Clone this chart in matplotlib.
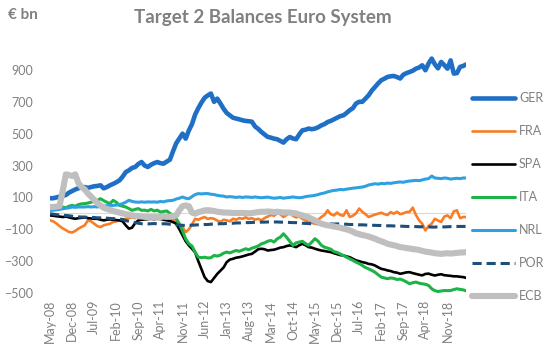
import numpy as np
import pandas as pd
import matplotlib
matplotlib.use('Agg')
import matplotlib.pyplot as plt

plt.rcParams['font.family'] = ['Lato', 'DejaVu Sans']

# monthly balances, May-08 .. May-19 (EUR bn)
months = pd.date_range('2008-05-01', periods=133, freq='MS')
month_labels = months.strftime('%b-%y')

ger = [95, 95, 100, 105, 110, 115, 130, 140, 150, 158, 163, 165,
       160, 165, 170, 172, 176, 157, 165, 176, 185, 195, 207, 230,
       259, 270, 285, 291, 310, 322, 300, 291, 305, 315, 322, 315,
       312, 325, 337, 390, 440, 470, 500, 469, 520, 560, 620, 660,
       695, 725, 740, 752, 700, 720, 690, 657, 630, 615, 600, 595,
       590, 584, 580, 578, 575, 545, 530, 511, 495, 480, 475, 469,
       465, 455, 444, 465, 479, 470, 465, 495, 521, 525, 532, 528,
       532, 540, 552, 560, 573, 580, 590, 600, 610, 615, 630, 647,
       660, 689, 700, 700, 720, 741, 770, 793, 815, 835, 845, 856,
       860, 862, 855, 846, 870, 880, 887, 895, 908, 915, 929, 898,
       940, 971, 935, 910, 950, 930, 908, 960, 877, 880, 919, 925,
       935]
fra = [-44, -50, -63, -80, -94, -105, -117, -120, -110, -96, -85, -75,
       -44, -50, -65, -80, -86, -75, -70, -65, -54, -50, -44, -40,
       -34, -30, -25, -30, -20, -25, -30, -20, -25, -15, -20, -25,
       -10, -20, -30, -40, -60, -75, -86, -117, -100, -70, -34, -40,
       -30, -23, -35, -30, -34, -45, -54, -40, -44, -50, -34, -40,
       -30, -34, -25, -35, -30, -40, -34, -44, -30, -20, -10, -15,
       0, -5, -23, -10, 5, -15, -25, -20, -34, -45, -54, -60,
       -65, -40, -23, -10, 19, -5, -13, 5, -10, -15, 19, -23,
       -15, 0, 30, 10, -5, -23, -15, -8, -2, 4, -5, -10,
       8, -2, 10, -5, 0, 8, 10, 36, -10, -44, -65, -107,
       -80, -65, -34, -45, -54, -20, -13, -30, 12, 19, -30, -23,
       -23]
spa = [-13, -15, -18, -20, -23, -20, -25, -30, -34, -30, -28, -25,
       -30, -32, -34, -34, -40, -44, -40, -38, -40, -42, -44, -50,
       -75, -96, -90, -60, -44, -40, -38, -36, -34, -36, -34, -35,
       -40, -44, -48, -55, -65, -100, -138, -175, -201, -222, -245, -300,
       -350, -400, -425, -431, -405, -380, -360, -340, -306, -290, -285, -278,
       -275, -270, -264, -258, -254, -240, -225, -222, -225, -233, -230, -228,
       -222, -215, -212, -205, -201, -205, -212, -200, -191, -200, -212, -215,
       -222, -228, -233, -236, -240, -243, -250, -256, -262, -264, -270, -275,
       -285, -295, -300, -306, -310, -317, -320, -327, -338, -348, -352, -358,
       -362, -369, -372, -379, -375, -370, -369, -375, -380, -385, -389, -380,
       -378, -385, -390, -385, -382, -388, -390, -392, -395, -395, -398, -400,
       -405]
ita = [19, 29, 25, 30, 40, 35, 45, 50, 45, 55, 60, 61,
       65, 70, 75, 82, 92, 80, 70, 61, 82, 70, 50, 45,
       40, 30, 19, 25, 30, 19, 20, 15, 25, 15, 20, 8,
       12, 15, 0, -13, -34, -65, -110, -160, -190, -205, -243, -275,
       -278, -275, -280, -278, -264, -268, -262, -250, -243, -248, -240, -233,
       -238, -230, -222, -228, -218, -212, -205, -191, -185, -175, -170, -180,
       -160, -149, -128, -150, -175, -201, -185, -180, -175, -190, -200, -180,
       -159, -175, -200, -212, -218, -225, -240, -245, -255, -264, -275, -285,
       -295, -306, -315, -327, -340, -348, -358, -369, -385, -400, -405, -410,
       -405, -408, -415, -412, -420, -430, -442, -435, -431, -438, -442, -445,
       -452, -473, -485, -490, -487, -484, -485, -484, -478, -473, -477, -480,
       -487]
nrl = [19, 20, 22, 25, 29, 32, 35, 40, 38, 40, 40, 40,
       42, 40, 42, 40, 45, 45, 48, 50, 50, 52, 55, 61,
       70, 82, 75, 71, 70, 72, 70, 72, 71, 72, 70, 75,
       72, 78, 80, 82, 90, 95, 103, 95, 92, 105, 118, 124,
       122, 124, 124, 120, 118, 113, 110, 108, 103, 105, 103, 100,
       103, 100, 103, 102, 100, 103, 100, 98, 100, 102, 98, 95,
       97, 100, 95, 98, 100, 103, 100, 98, 100, 105, 108, 110,
       113, 118, 124, 128, 135, 140, 144, 146, 150, 148, 152, 155,
       158, 160, 163, 165, 170, 178, 182, 186, 183, 188, 186, 190,
       188, 192, 195, 197, 195, 200, 203, 205, 207, 205, 210, 215,
       218, 234, 222, 220, 218, 222, 220, 215, 218, 220, 218, 222,
       222]
por = [-2, -5, -8, -10, -12, -13, -15, -18, -20, -22, -23, -23,
       -25, -25, -26, -28, -28, -30, -30, -32, -33, -34, -35, -38,
       -45, -50, -54, -58, -62, -65, -65, -66, -65, -64, -65, -66,
       -65, -66, -68, -70, -72, -74, -75, -76, -75, -74, -73, -72,
       -72, -70, -70, -68, -67, -66, -65, -65, -63, -62, -62, -60,
       -60, -59, -58, -58, -57, -56, -56, -55, -55, -54, -54, -54,
       -54, -55, -55, -56, -57, -58, -58, -60, -62, -63, -64, -65,
       -65, -65, -66, -66, -65, -66, -67, -66, -67, -68, -68, -70,
       -70, -70, -72, -72, -73, -74, -75, -75, -76, -76, -78, -78,
       -78, -79, -80, -80, -81, -82, -82, -83, -83, -84, -84, -85,
       -85, -86, -86, -85, -84, -85, -84, -83, -82, -82, -82, -82,
       -82]
ecb = [40, 40, 42, 45, 140, 245, 240, 235, 245, 190, 165, 150,
       125, 105, 85, 65, 50, 35, 28, 22, 15, 10, 5, 0,
       -5, -8, -13, -15, -18, -20, -22, -23, -22, -23, -22, -23,
       -20, -22, -20, -18, -13, 20, 45, 50, 45, 5, -2, 8,
       12, 19, 20, 18, 15, 10, 8, 5, 5, 4, 2, 3,
       2, 3, 2, 0, 2, 5, 8, 10, 10, 12, 10, 8,
       10, 8, 5, 6, 5, 2, 0, -8, -13, -20, -25, -35,
       -44, -55, -65, -70, -75, -78, -82, -86, -90, -96, -100, -107,
       -115, -125, -130, -136, -140, -145, -152, -159, -168, -175, -182, -191,
       -196, -200, -205, -212, -214, -218, -220, -224, -226, -230, -235, -240,
       -243, -246, -250, -252, -254, -252, -250, -252, -250, -248, -246, -245,
       -243]

series = [
    ('GER', ger, '#1f6fc6', 3.3, '-'),
    ('FRA', fra, '#f97d25', 1.9, '-'),
    ('SPA', spa, '#000000', 1.9, '-'),
    ('ITA', ita, '#1db447', 2.2, '-'),
    ('NRL', nrl, '#2fa0e0', 2.2, '-'),
    ('POR', por, '#1f4e79', 2.2, '--'),
    ('ECB', ecb, '#bfbfbf', 4.4, '-'),
]

grey = '#808080'
fig = plt.figure(figsize=(5.5, 3.46), dpi=100)
ax = fig.add_axes([0.091, 0.153, 0.757, 0.691])

x = np.arange(len(months))
ax.axhline(0, color='#d9d9d9', lw=0.8, zorder=0)
for name, vals, col, lw, ls in series:
    ax.plot(x, vals, color=col, lw=lw, ls=ls, label=name,
            solid_capstyle='round', dashes=(3, 1.6) if ls == '--' else (None, None))

ax.set_xlim(0, len(months) - 1)
ax.set_ylim(-500, 1000)
ax.set_yticks(np.arange(-500, 1000, 200))
ax.set_xticks(x[::7])
ax.set_xticklabels(month_labels[::7], rotation=90)
ax.tick_params(axis='both', length=0, colors=grey, labelsize=9)
ax.tick_params(axis='y', pad=12, labelsize=9)
ax.tick_params(axis='x', pad=5)
for s in ax.spines.values():
    s.set_visible(False)

leg = ax.legend(loc='upper left', bbox_to_anchor=(472 / 550, 1 - 92 / 346),
                bbox_transform=fig.transFigure, frameon=False, fontsize=9,
                handlelength=3.4, handletextpad=0.35, labelspacing=1.68,
                borderpad=0, borderaxespad=0)
for t in leg.get_texts():
    t.set_color(grey)

fig.text(0.478, 0.95, 'Target 2 Balances Euro System', ha='center', va='center',
         fontsize=13.5, fontweight='bold', color=grey)
fig.text(0.015, 0.957, '€ bn', ha='left', va='center', fontsize=11,
         fontweight='bold', color=grey)

fig.savefig('out.png', dpi=100)
